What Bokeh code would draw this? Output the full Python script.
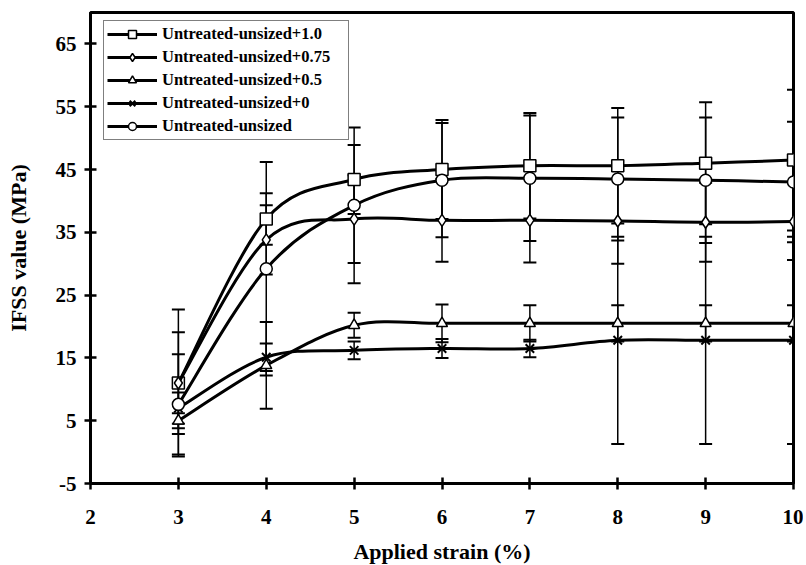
import numpy as np
from bokeh.plotting import figure
from bokeh.models import Legend, LegendItem, FixedTicker, Range1d
from bokeh.embed import file_html
from bokeh.resources import INLINE

# ---- data ----
strain = [3, 4, 5, 6, 7, 8, 9, 10]

labels = ["Untreated-unsized+1.0", "Untreated-unsized+0.75", "Untreated-unsized+0.5",
          "Untreated-unsized+0", "Untreated-unsized"]

ifss_10 = [11.0, 37.1, 43.4, 45.0, 45.6, 45.6, 46.0, 46.5]
err_10 = [11.7, 4.1, 5.5, 7.9, 8.4, 9.2, 9.7, 11.2]

ifss_075 = [11.0, 33.8, 37.1, 36.9, 36.9, 36.8, 36.6, 36.7]
err_075 = [8.1, 5.5, 7.0, 6.6, 6.7, 6.8, 6.3, 6.1]

ifss_05 = [5.0, 13.8, 20.2, 20.5, 20.5, 20.5, 20.5, 20.5]
err_05 = [1.2, 6.9, 2.0, 3.0, 2.9, 2.9, 2.9, 2.9]

ifss_0 = [7.0, 15.1, 16.2, 16.5, 16.5, 17.8, 17.8, 17.8]
err_0 = [2.5, 2.2, 1.4, 1.5, 1.4, 16.5, 16.5, 16.5]

ifss_un = [7.6, 29.2, 39.3, 43.3, 43.6, 43.5, 43.3, 43.0]
err_un = [8.0, 17.0, 12.4, 9.1, 10.0, 9.8, 10.0, 9.6]

x_ticks = [2, 3, 4, 5, 6, 7, 8, 9, 10]
y_ticks = [-5, 5, 15, 25, 35, 45, 55, 65]
y_tick_labels = ["-5", "5", "15", "25", "35", "45", "55", "65"]

FONT = "Liberation Serif"

p = figure(frame_width=703, frame_height=471, x_range=Range1d(2, 10), y_range=Range1d(-5, 70),
           output_backend="svg", toolbar_location=None,
           min_border_left=90, min_border_right=10, min_border_top=12, min_border_bottom=78)

p.background_fill_color = "white"
p.border_fill_color = "white"
p.outline_line_color = "black"
p.outline_line_width = 3
p.xgrid.visible = False
p.ygrid.visible = False

for ax in (p.xaxis[0], p.yaxis[0]):
    ax.axis_line_width = 3
    ax.axis_line_color = "black"
    ax.major_tick_in = 6
    ax.major_tick_out = 6
    ax.major_tick_line_width = 2.5
    ax.minor_tick_line_color = None
    ax.major_label_text_font = FONT
    ax.major_label_text_font_style = "bold"
    ax.major_label_text_font_size = "21px"
    ax.major_label_text_color = "black"
    ax.axis_label_text_font = FONT
    ax.axis_label_text_font_style = "bold"
    ax.axis_label_text_font_size = "22px"
    ax.axis_label_text_color = "black"

p.xaxis.ticker = FixedTicker(ticks=x_ticks)
p.yaxis.ticker = FixedTicker(ticks=y_ticks)
p.yaxis.major_label_overrides = {t: s for t, s in zip(y_ticks, y_tick_labels)}
p.xaxis.axis_label = "Applied strain (%)"
p.yaxis.axis_label = "IFSS value (MPa)"
p.xaxis.major_label_standoff = 20
p.xaxis.axis_label_standoff = 12
p.yaxis.major_label_standoff = 8
p.yaxis.axis_label_standoff = 22


def smooth_segments(xs, ys):
    n = len(xs)
    out = {k: [] for k in ("x0", "y0", "x1", "y1", "cx0", "cy0", "cx1", "cy1")}
    for i in range(n - 1):
        xm, ym = (xs[i - 1], ys[i - 1]) if i > 0 else (xs[i], ys[i])
        xp, yp = (xs[i + 2], ys[i + 2]) if i + 2 < n else (xs[i + 1], ys[i + 1])
        out["x0"].append(xs[i]); out["y0"].append(ys[i])
        out["x1"].append(xs[i + 1]); out["y1"].append(ys[i + 1])
        out["cx0"].append(xs[i] + (xs[i + 1] - xm) / 6.0)
        out["cy0"].append(ys[i] + (ys[i + 1] - ym) / 6.0)
        out["cx1"].append(xs[i + 1] - (xp - xs[i]) / 6.0)
        out["cy1"].append(ys[i + 1] - (yp - ys[i]) / 6.0)
    return out


series = [
    (labels[0], ifss_10, err_10, "square", 12),
    (labels[1], ifss_075, err_075, "diamond", 12),
    (labels[2], ifss_05, err_05, "triangle", 11),
    (labels[3], ifss_0, err_0, "x", 12),
    (labels[4], ifss_un, err_un, "circle", 12),
]

# error bars
for name, vals, errs, mk, sz in series:
    v = np.array(vals)
    e = np.array(errs)
    lo = (v - e).tolist()
    hi = (v + e).tolist()
    p.segment(x0=strain, y0=lo, x1=strain, y1=hi, line_color="black", line_width=1.5)
    p.scatter(x=strain + strain, y=lo + hi, marker="dash", size=13,
              line_color="black", line_width=2)

items = []
for name, vals, errs, mk, sz in series:
    seg = smooth_segments(strain, vals)
    p.bezier(line_color="black", line_width=3, line_cap="round", **seg)
    leg_line = p.line(x=[float("nan")], y=[float("nan")], line_color="black", line_width=3)
    sc = p.scatter(x=strain, y=vals, marker=mk, size=sz, fill_color="white",
                   line_color="black", line_width=2 if mk == "x" else 1.5)
    items.append(LegendItem(label=name, renderers=[leg_line, sc]))

legend = Legend(items=items, location=(13, 343))
legend.label_text_font = FONT
legend.label_text_font_style = "bold"
legend.label_text_font_size = "16.5px"
legend.label_text_color = "black"
legend.glyph_width = 50
legend.glyph_height = 20
legend.label_height = 20
legend.label_width = 183
legend.label_standoff = 5
legend.padding = 3
legend.spacing = 3
legend.margin = 0
legend.border_line_color = "black"
legend.border_line_width = 1.5
legend.background_fill_color = "white"
legend.background_fill_alpha = 1.0
p.add_layout(legend)

open("out.html", "w").write(file_html(p, INLINE))
